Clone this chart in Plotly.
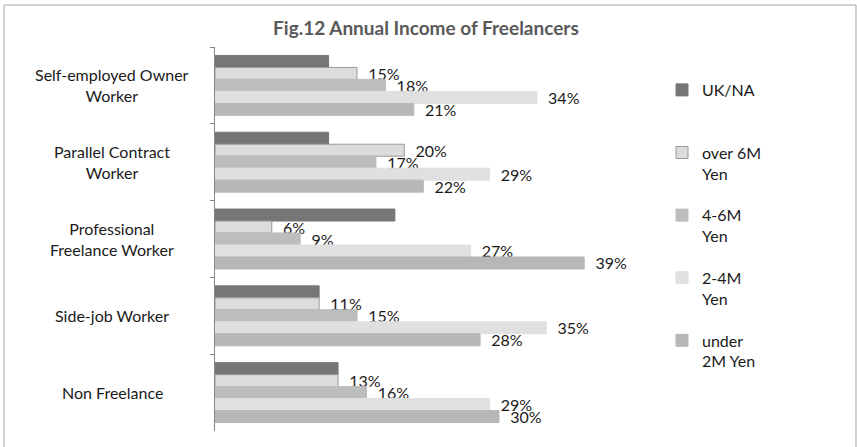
import plotly.graph_objects as go

# data (percent)
categories = [
    "Self-employed Owner<br>Worker",
    "Parallel Contract<br>Worker",
    "Professional<br>Freelance Worker",
    "Side-job Worker",
    "Non Freelance",
]
uk_na = [12, 12, 19, 11, 13]
over_6m = [15, 20, 6, 11, 13]
m4_6 = [18, 17, 9, 15, 16]
m2_4 = [34, 29, 27, 35, 29]
under_2m = [21, 22, 39, 28, 30]

series_names = ["UK/NA<br>\u00a0", "over 6M<br>Yen", "4-6M<br>Yen", "2-4M<br>Yen", "under<br>2M Yen"]
series_values = [uk_na, over_6m, m4_6, m2_4, under_2m]
series_colors = ["#767676", "#dcdcdc", "#bdbdbd", "#e0e0e0", "#b7b7b7"]

W, H = 857, 447
L, R, T, B = 215, 216, 47, 16
plot_w = W - L - R
plot_h = H - T - B

fig = go.Figure()

for i, (name, vals, col) in enumerate(zip(series_names, series_values, series_colors)):
    show_text = i > 0
    fig.add_trace(go.Bar(
        y=categories,
        x=vals,
        name=name,
        orientation="h",
        legendgroup=str(i),
        marker=dict(
            color=col,
            line=dict(color="#9a9a9a" if i == 1 else col, width=1),
        ),
        texttemplate="\u00a0\u00a0%{x}%" if show_text else None,
        textposition="outside" if show_text else "none",
        textfont=dict(size=16, color="#1a1a1a"),
        constraintext="none",
        cliponaxis=False,
        hoverinfo="x+y",
    ))

# centred category labels on the left
for cat in categories:
    fig.add_annotation(
        xref="paper", yref="y",
        x=(112 - L) / plot_w, y=cat,
        text=cat, showarrow=False,
        align="center", xanchor="center", yanchor="middle",
        font=dict(size=16, color="#1a1a1a"),
    )

# outer chart frame
fig.add_shape(
    type="rect", xref="paper", yref="paper",
    x0=(4 - L) / plot_w, x1=(856 - L) / plot_w,
    y0=(H - B - 449) / plot_h, y1=(H - B - 5) / plot_h,
    line=dict(color="#a6a6a6", width=1),
    fillcolor="rgba(0,0,0,0)",
)

fig.update_layout(
    width=W, height=H,
    margin=dict(l=L, r=R, t=T, b=B, autoexpand=False),
    paper_bgcolor="white",
    plot_bgcolor="white",
    font=dict(family="Lato, Open Sans, sans-serif", size=16, color="#1a1a1a"),
    barmode="group",
    bargap=0.22,
    bargroupgap=0,
    title=dict(
        text="<b>Fig.12 Annual Income of Freelancers</b>",
        x=0.497, xref="container", xanchor="center",
        y=1 - 28 / H, yanchor="middle",
        font=dict(size=19, color="#595959"),
    ),
    legend=dict(
        x=(662 - L) / plot_w, xanchor="left",
        y=(H - B - 73) / plot_h, yanchor="top",
        traceorder="grouped",
        tracegroupgap=18,
        valign="top",
        font=dict(size=16, color="#1a1a1a"),
        bgcolor="rgba(0,0,0,0)",
        itemwidth=30,
    ),
    showlegend=True,
)

fig.update_xaxes(range=[0, 45], visible=False, fixedrange=True)
fig.update_yaxes(
    autorange="reversed",
    showticklabels=False,
    showline=True, linecolor="#868686", linewidth=1,
    ticks="outside", tickson="boundaries", ticklen=4, tickcolor="#868686",
    showgrid=False, zeroline=False,
)

# drop the default body margin so the figure sits at the window's top-left
fig.write_html(
    "out.html",
    config={"displayModeBar": False},
    post_script="document.body.style.margin='0';",
)
